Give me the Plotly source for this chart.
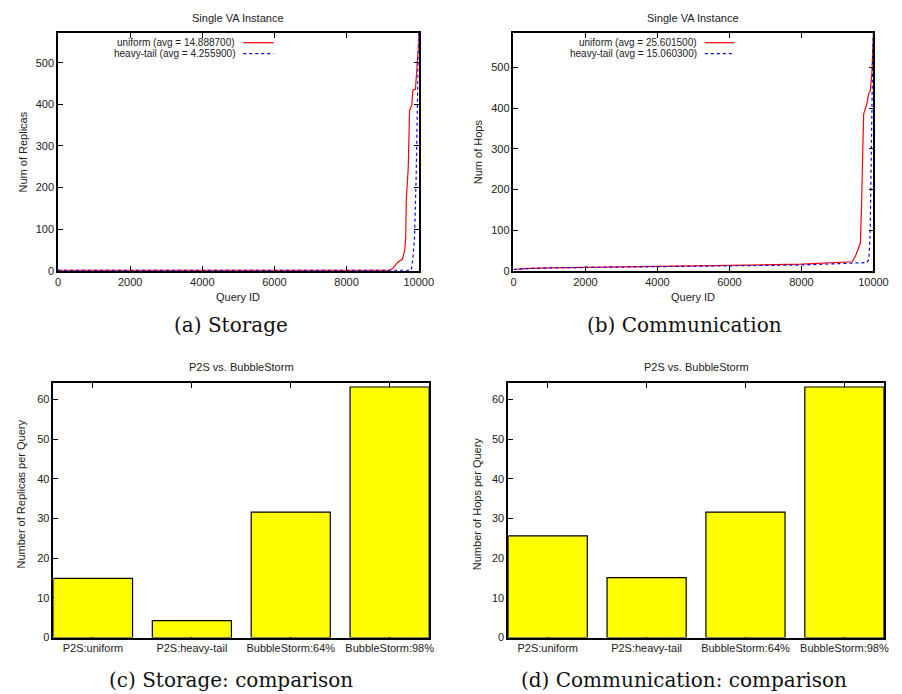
import plotly.graph_objects as go

# ---------------- data ----------------
# (a) Storage: sorted number of replicas per query
stor_uni_x = [0, 9200, 9275, 9430, 9547, 9611, 9638, 9656, 9710, 9728, 9747, 9810, 9837, 9910, 9928, 9964, 9991, 10000]
stor_uni_y = [1, 1, 5, 21, 28, 48, 76, 171, 247, 299, 386, 398, 434, 436, 458, 482, 537, 572]
stor_ht_x = [0, 9792, 9837, 9883, 9928, 9973, 10000]
stor_ht_y = [1, 1, 28, 76, 219, 458, 572]

# (b) Communication: sorted number of hops per query
comm_uni_x = [0, 300, 1000, 2000, 4000, 6000, 8000, 9410, 9501, 9592, 9637, 9664, 9691, 9710, 9728, 9755, 9818, 9864, 9909, 9955, 9982, 10000]
comm_uni_y = [3, 5, 7, 8, 11, 13, 16, 22, 36, 58, 68, 142, 223, 280, 385, 393, 410, 434, 442, 482, 547, 583]
comm_ht_x = [0, 300, 1000, 2000, 4000, 6000, 8000, 9818, 9873, 9909, 9937, 9955, 9982, 10000]
comm_ht_y = [3, 5, 7, 8, 10, 12, 14, 20, 28, 92, 303, 385, 547, 583]

legend_stor = ["uniform (avg = 14.888700)", "heavy-tail (avg = 4.255900)"]
legend_comm = ["uniform (avg = 25.601500)", "heavy-tail (avg = 15.060300)"]

# (c), (d) comparison bars
bar_cats = ["P2S:uniform", "P2S:heavy-tail", "BubbleStorm:64%", "BubbleStorm:98%"]
bar_storage = [14.8887, 4.2559, 31.6, 63.1]
bar_comm = [25.6015, 15.0603, 31.6, 63.1]

line_ticks = [0, 2000, 4000, 6000, 8000, 10000]
line_tick_text = ["0", "2000", "4000", "6000", "8000", "10000"]
line_yticks = [0, 100, 200, 300, 400, 500]
bar_yticks = [0, 10, 20, 30, 40, 50, 60]

# ---------------- layout helpers ----------------
W, H = 902, 694
def px(x):
    return x / W
def py(y):
    return 1 - y / H

SANS = "Liberation Sans, Arial, sans-serif"
SERIF = "DejaVu Serif, serif"
TXT = "#222222"

fig = go.Figure()

RED = "#ff0000"
BLUE = "#0000ff"

fig.add_trace(go.Scatter(x=stor_uni_x, y=stor_uni_y, mode="lines", line=dict(color=RED, width=1.2),
                         xaxis="x", yaxis="y", showlegend=False))
fig.add_trace(go.Scatter(x=stor_ht_x, y=stor_ht_y, mode="lines", line=dict(color=BLUE, width=1.2, dash="dot"),
                         xaxis="x", yaxis="y", showlegend=False))
fig.add_trace(go.Scatter(x=comm_uni_x, y=comm_uni_y, mode="lines", line=dict(color=RED, width=1.2),
                         xaxis="x2", yaxis="y2", showlegend=False))
fig.add_trace(go.Scatter(x=comm_ht_x, y=comm_ht_y, mode="lines", line=dict(color=BLUE, width=1.2, dash="dot"),
                         xaxis="x2", yaxis="y2", showlegend=False))

bar_x = list(range(len(bar_cats)))
fig.add_trace(go.Bar(x=bar_x, y=bar_storage, width=0.8, marker=dict(color="#ffff00", line=dict(color="#000000", width=1.2)),
                     xaxis="x3", yaxis="y3", showlegend=False))
fig.add_trace(go.Bar(x=bar_x, y=bar_comm, width=0.8, marker=dict(color="#ffff00", line=dict(color="#000000", width=1.2)),
                     xaxis="x4", yaxis="y4", showlegend=False))

axis_common = dict(showline=True, linecolor="#000000", linewidth=1.5, mirror="ticks", ticks="inside",
                   ticklen=5, tickcolor="#000000", tickwidth=1, showgrid=False, zeroline=False,
                   tickfont=dict(family=SANS, size=11, color=TXT))

top_y = [py(265), py(25)]
bot_y = [py(635), py(378.7)]

fig.update_layout(
    width=W, height=H, margin=dict(l=0, r=0, t=0, b=0),
    paper_bgcolor="white", plot_bgcolor="white",
    xaxis=dict(axis_common, domain=[px(48), px(416)], range=[0, 10000], tickvals=line_ticks,
               ticktext=line_tick_text, anchor="y"),
    yaxis=dict(axis_common, domain=top_y, range=[0, 572], tickvals=line_yticks, anchor="x"),
    xaxis2=dict(axis_common, domain=[px(512.7), px(880)], range=[0, 10000], tickvals=line_ticks,
                ticktext=line_tick_text, anchor="y2"),
    yaxis2=dict(axis_common, domain=top_y, range=[0, 585], tickvals=line_yticks, anchor="x2"),
    xaxis3=dict(axis_common, domain=[px(43.3), px(426.7)], range=[-0.4, 3.4], tickvals=bar_x, ticktext=bar_cats,
                anchor="y3", layer="below traces"),
    yaxis3=dict(axis_common, domain=bot_y, range=[0, 64], tickvals=bar_yticks, anchor="x3", layer="below traces"),
    xaxis4=dict(axis_common, domain=[px(507.3), px(890.7)], range=[-0.4, 3.4], tickvals=bar_x, ticktext=bar_cats,
                anchor="y4", layer="below traces"),
    yaxis4=dict(axis_common, domain=bot_y, range=[0, 64], tickvals=bar_yticks, anchor="x4", layer="below traces"),
)

ann = []
def text(x, y, s, size=11, family=SANS, xanchor="center", angle=0, color=TXT):
    ann.append(dict(x=px(x), y=py(y), xref="paper", yref="paper", text=s, showarrow=False,
                    xanchor=xanchor, yanchor="middle", textangle=angle, borderpad=0,
                    font=dict(family=family, size=size, color=color)))

# titles
text(232, 10, "Single VA Instance")
text(696, 10, "Single VA Instance")
text(235, 361.7, "P2S vs. BubbleStorm")
text(699, 361.7, "P2S vs. BubbleStorm")
# axis titles
text(232, 292, "Query ID")
text(696, 292, "Query ID")
text(12, 145, "Num of Replicas", angle=-90)
text(476, 145, "Num of Hops", angle=-90)
text(10, 490, "Number of Replicas per Query", angle=-90)
text(475, 500, "Number of Hops per Query", angle=-90)
# captions
text(224, 320, "(a) Storage", size=20, family=SERIF, color="#111111")
text(687, 320, "(b) Communication", size=20, family=SERIF, color="#111111")
text(224, 678, "(c) Storage: comparison", size=20, family=SERIF, color="#111111")
text(687, 678, "(d) Communication: comparison", size=20, family=SERIF, color="#111111")

# gnuplot-style keys (text right-justified, sample on the right)
shapes = []
def key(x_text_right, x0, x1, rows, labels):
    for (yy, lab, col, dash) in zip(rows, labels, [RED, BLUE], ["solid", "dot"]):
        text(x_text_right, yy, lab, size=10, xanchor="right")
        shapes.append(dict(type="line", xref="paper", yref="paper", x0=px(x0), x1=px(x1), y0=py(yy), y1=py(yy),
                           line=dict(color=col, width=1.2, dash=dash)))

key(230, 237, 268, [35, 46], legend_stor)
key(700.7, 708, 738, [35, 46], legend_comm)

fig.update_layout(annotations=ann, shapes=shapes)

fig.write_html("out.html")
